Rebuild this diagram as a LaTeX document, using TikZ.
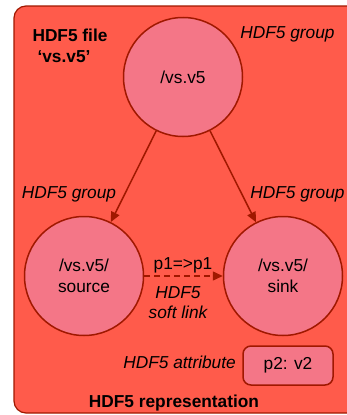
\documentclass[tikz,border=0pt]{standalone}
\usepackage{fontspec}
\setmainfont{Liberation Sans}
\usetikzlibrary{arrows.meta}
\definecolor{panelred}{RGB}{255,91,75}
\definecolor{grouppink}{RGB}{244,118,135}
\definecolor{edgered}{RGB}{160,24,0}
\begin{document}
\begin{tikzpicture}[x=1pt,y=-1pt,
  txt/.style={font=\fontsize{17.3}{20}\selectfont, text=black, inner sep=0pt},
  boldtxt/.style={txt, font=\fontsize{17.3}{20}\selectfont\bfseries},
  ittxt/.style={txt, font=\fontsize{17.3}{20}\selectfont\itshape},
  group/.style={circle, draw=edgered, fill=grouppink, line width=1.5pt,
    minimum size=119pt, inner sep=0pt, font=\fontsize{17.3}{21}\selectfont, align=center},
  attrbox/.style={rounded corners=8pt, draw=edgered, fill=grouppink, line width=1.5pt,
    minimum width=90pt, minimum height=39pt, inner sep=0pt, font=\fontsize{17.3}{20}\selectfont},
  link/.style={draw=edgered, line width=1.5pt, -{Triangle[length=10pt,width=9pt]}},
]
\useasboundingbox (0,0) rectangle (347,415);
% panel holding the whole representation
\begin{scope}
  \clip (0,0) rectangle (347,415);
  \draw[fill=panelred, draw=edgered, line width=1.2pt, rounded corners=12pt]
    (14,6) rectangle (360,413);
\end{scope}

% groups
\node[group] (root) at (183,77) {/vs.v5};
\node[group] (source) at (84,276) {/vs.v5/\\source};
\node[group] (sink) at (283,276) {/vs.v5/\\sink};

% attribute
\node[attrbox] (attr) at (288,365.5) {p2: v2};

% links
\draw[link] (root) -- (source);
\draw[link] (root) -- (sink);
\draw[link, dash pattern=on 6pt off 4pt] (source) -- (sink);

% labels
\node[boldtxt] (filelabel) at (70,35) {HDF5 file};
\node[boldtxt] (filename) at (64,57) {‘vs.v5’};
\node[ittxt] (rootlabel) at (287.5,34) {HDF5 group};
\node[ittxt] (sourcelabel) at (69,194) {HDF5 group};
\node[ittxt] (sinklabel) at (297.5,194) {HDF5 group};
\node[txt] (linkname) at (183,265) {p1=>p1};
\node[ittxt, align=center] (linklabel) at (178,303) {HDF5\\soft link};
\node[ittxt, anchor=east] (attrlabel) at (236,362) {HDF5 attribute};
\node[boldtxt] (title) at (174,403) {HDF5 representation};
\end{tikzpicture}
\end{document}
